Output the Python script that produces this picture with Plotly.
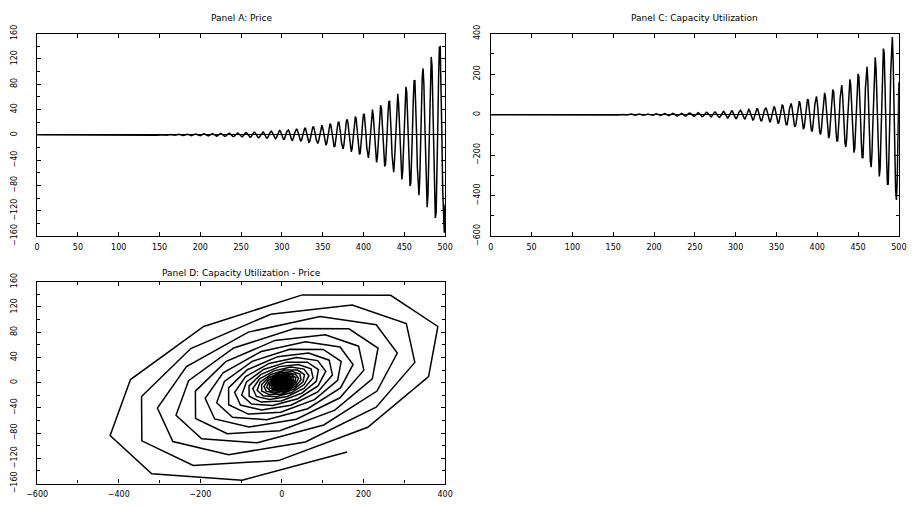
import plotly.graph_objects as go

# time index 0..500
period = list(range(0, 501))

# Panel A: Price (tiny early values estimated)
price = [
    0.0, 0.0, -0.1, -0.1, 0.0,
    0.0, 0.0, 0.1, 0.1, 0.1, 0.0, 0.0, -0.1, -0.1, -0.1, 0.0, 0.0, 0.1, 0.1, 0.1, 0.0, 0.0, -0.1, -0.1, -0.1, 0.0, 0.0, 0.1, 0.1, 0.1, 0.1, 0.0, -0.1, -0.1, -0.1, -0.1,
    0.0, 0.1, 0.1, 0.1, 0.1, 0.0, 0.0, -0.1, -0.1, -0.1, 0.0, 0.0, 0.1, 0.1, 0.1, 0.1, 0.0, -0.1, -0.1, -0.1, -0.1, 0.0, 0.1, 0.2, 0.2, 0.1, 0.0, -0.1, -0.2, -0.2, -0.1,
    0.0, 0.1, 0.2, 0.2, 0.1, 0.0, -0.1, -0.2, -0.2, -0.2, -0.1, 0.1, 0.2, 0.2, 0.2, 0.1, 0.0, -0.2, -0.2, -0.2, -0.1, 0.0, 0.2, 0.3, 0.3, 0.2, 0.0, -0.2, -0.3, -0.3, -0.2,
    -0.04, 0.14, 0.28, 0.32, 0.24, 0.08, -0.12, -0.28, -0.34, -0.28, -0.12, 0.10, 0.28, 0.37, 0.33, 0.16, -0.07, -0.28, -0.39, -0.37, -0.21, 0.03, 0.27, 0.42, 0.42, 0.27, 0.01, -0.25, -0.43, -0.47, -0.33,
    -0.07, 0.23, 0.45, 0.51, 0.39, 0.12, -0.20, -0.46, -0.56, -0.46, -0.19, 0.16, 0.46, 0.60, 0.53, 0.26, -0.11, -0.45, -0.64, -0.60, -0.34, 0.05, 0.43, 0.68, 0.68, 0.43, 0.02, -0.41, -0.70, -0.75, -0.53,
    -0.11, 0.37, 0.73, 0.83, 0.63, 0.20, -0.32, -0.74, -0.90, -0.74, -0.31, 0.25, 0.74, 0.97, 0.86, 0.43, -0.17, -0.73, -1.04, -0.98, -0.56, 0.08, 0.70, 1.10, 1.10, 0.70, 0.04, -0.66, -1.14, -1.22, -0.86,
    -0.1, 0.6, 1.2, 1.4, 1.0, 0.4, -0.6, -1.2, -1.5, -1.2, -0.6, 0.4, 1.2, 1.6, 1.4, 0.7, -0.2, -1.2, -1.7, -1.6, -0.9, 0.1, 1.1, 1.8, 1.8, 1.1, 0.1, -1.0, -1.8, -2.0, -1.4,
    -0.2, 1.0, 1.9, 2.2, 1.7, 0.6, -0.9, -1.9, -2.4, -2.0, -0.9, 0.6, 1.9, 2.6, 2.3, 1.1, -0.4, -1.9, -2.7, -2.6, -1.5, 0.2, 1.8, 2.9, 2.9, 1.8, 0.1, -1.7, -3.0, -3.2, -2.3,
    -0.4, 1.6, 3.1, 3.6, 2.7, 0.9, -1.4, -3.1, -3.9, -3.2, -1.4, 1.0, 3.1, 4.2, 3.7, 1.8, -0.7, -3.1, -4.4, -4.2, -2.4, 0.4, 3.0, 4.7, 4.7, 3.0, 0.1, -2.8, -4.9, -5.2, -3.7,
    -0.7, 2.6, 5.1, 5.8, 4.4, 1.4, -2.2, -5.1, -6.3, -5.2, -2.2, 1.7, 5.1, 6.8, 6.0, 3.0, -1.2, -5.1, -7.2, -6.8, -3.9, 0.6, 4.9, 7.6, 7.6, 4.9, 0.2, -4.6, -7.9, -8.4, -6.0,
    -1.2, 4.2, 8.2, 9.4, 7.1, 2.3, -3.6, -8.3, -10.2, -8.4, -3.5, 2.8, 8.3, 11.0, 9.7, 4.8, -1.9, -8.2, -11.7, -11.0, -6.3, 0.9, 7.9, 12.3, 12.3, 7.9, 0.4, -7.5, -12.8, -13.7, -9.7,
    -1.9, 6.8, 13.3, 15.2, 11.5, 3.7, -5.8, -13.5, -16.5, -13.6, -5.6, 4.6, 13.5, 17.8, 15.7, 7.8, -3.1, -13.3, -19.0, -17.9, -10.2, 1.4, 12.8, 20.0, 20.0, 12.8, 0.7, -12.1, -20.8, -22.3, -15.7,
    -3.1, 11.0, 21.5, 24.6, 18.7, 6.0, -9.4, -21.9, -26.7, -22.0, -9.1, 7.5, 21.9, 28.8, 25.4, 12.6, -5.1, -21.6, -30.8, -29.0, -16.6, 2.2, 20.8, 32.4, 32.5, 20.8, 1.1, -19.6, -33.8, -36.2, -25.5,
    -5.1, 17.8, 34.9, 39.9, 30.4, 9.7, -15.3, -35.5, -43.4, -35.7, -14.8, 12.2, 35.6, 46.8, 41.2, 20.5, -8.3, -35.1, -49.9, -47.0, -26.9, 3.6, 33.8, 52.6, 52.8, 33.8, 1.8, -31.8, -54.9, -58.8, -41.4,
    -8.3, 28.8, 56.6, 64.7, 49.4, 15.7, -24.8, -57.6, -70.4, -57.9, -24.0, 19.8, 57.8, 75.9, 66.9, 33.3, -13.5, -56.9, -80.9, -76.2, -43.6, 5.9, 54.9, 85.4, 85.7, 54.9, 3.0, -51.6, -89.1, -95.4, -67.1,
    -13.4, 46.8, 91.8, 104.9, 80.1, 25.4, -40.3, -93.4, -114.2, -94.0, -38.9, 32.1, 93.7, 123.1, 108.5, 54.0, -21.9, -92.3, -131.2, -123.6, -70.7, 9.6, 89.0, 138.5, 139.1, 89.0, 4.9, -83.7, -144.5, -154.7, -110.0,
]

# Panel C: Capacity Utilization
capacity = [
    -0.2, -0.2, -0.1, 0.0, 0.1,
    0.2, 0.2, 0.2, 0.1, -0.1, -0.2, -0.2, -0.2, -0.1, 0.0, 0.2, 0.2, 0.2, 0.1, 0.0, -0.2, -0.2, -0.2, -0.2, 0.0, 0.1, 0.3, 0.3, 0.2, 0.0, -0.1, -0.3, -0.3, -0.2, -0.1, 0.1,
    0.3, 0.3, 0.3, 0.1, -0.1, -0.3, -0.3, -0.3, -0.1, 0.1, 0.3, 0.4, 0.3, 0.2, 0.0, -0.3, -0.4, -0.4, -0.2, 0.0, 0.2, 0.4, 0.4, 0.3, 0.1, -0.2, -0.4, -0.5, -0.4, -0.1, 0.2,
    0.4, 0.5, 0.4, 0.2, -0.2, -0.4, -0.6, -0.5, -0.2, 0.1, 0.4, 0.6, 0.6, 0.3, -0.1, -0.4, -0.6, -0.6, -0.4, 0.0, 0.4, 0.7, 0.7, 0.5, 0.1, -0.4, -0.7, -0.8, -0.6, -0.2, 0.3,
    0.7, 0.9, 0.7, 0.3, -0.2, -0.7, -0.9, -0.8, -0.4, 0.2, 0.7, 1.0, 0.9, 0.5, -0.1, -0.7, -1.0, -1.0, -0.7, 0.0, 0.6, 1.1, 1.1, 0.8, 0.2, -0.6, -1.1, -1.3, -1.0, -0.3, 0.5,
    1.1, 1.4, 1.1, 0.5, -0.4, -1.1, -1.5, -1.3, -0.6, 0.3, 1.1, 1.6, 1.5, 0.8, -0.1, -1.1, -1.7, -1.7, -1.1, 0.0, 1.0, 1.8, 1.9, 1.3, 0.2, -0.9, -1.8, -2.1, -1.6, -0.5, 0.8,
    1.84, 2.24, 1.83, 0.74, -0.65, -1.85, -2.41, -2.11, -1.04, 0.45, 1.83, 2.58, 2.41, 1.36, -0.22, -1.77, -2.72, -2.72, -1.72, -0.07, 1.66, 2.84, 3.02, 2.11, 0.40, -1.52, -2.94, -3.33, -2.52, -0.77, 1.32,
    3.0, 3.6, 3.0, 1.2, -1.0, -3.0, -3.9, -3.5, -1.7, 0.7, 3.0, 4.2, 3.9, 2.2, -0.4, -2.8, -4.4, -4.4, -2.8, -0.1, 2.7, 4.6, 4.9, 3.4, 0.6, -2.5, -4.7, -5.4, -4.1, -1.2, 2.2,
    4.9, 5.9, 4.8, 1.9, -1.7, -4.9, -6.3, -5.6, -2.7, 1.2, 4.8, 6.8, 6.3, 3.6, -0.6, -4.6, -7.1, -7.1, -4.6, -0.1, 4.4, 7.5, 8.0, 5.5, 1.0, -4.0, -7.7, -8.8, -6.7, -2.0, 3.5,
    7.9, 9.6, 7.8, 3.1, -2.8, -7.9, -10.3, -9.1, -4.4, 1.9, 7.8, 11.0, 10.3, 5.8, -0.9, -7.5, -11.6, -11.6, -7.4, -0.2, 7.1, 12.1, 12.9, 9.0, 1.7, -6.5, -12.5, -14.2, -10.8, -3.3, 5.6,
    12.8, 15.5, 12.6, 5.1, -4.5, -12.8, -16.7, -14.7, -7.1, 3.1, 12.6, 17.9, 16.7, 9.4, -1.5, -12.2, -18.9, -18.9, -12.0, -0.4, 11.5, 19.7, 21.0, 14.6, 2.7, -10.5, -20.3, -23.1, -17.5, -5.4, 9.1,
    20.8, 25.2, 20.5, 8.3, -7.3, -20.8, -27.1, -23.8, -11.6, 5.1, 20.5, 29.0, 27.1, 15.3, -2.4, -19.8, -30.6, -30.6, -19.4, -0.7, 18.7, 32.0, 34.0, 23.7, 4.4, -17.1, -33.0, -37.5, -28.4, -8.7, 14.8,
    33.7, 40.9, 33.3, 13.5, -11.9, -33.8, -44.0, -38.6, -18.9, 8.3, 33.3, 47.0, 44.0, 24.9, -3.9, -32.2, -49.7, -49.6, -31.4, -1.2, 30.3, 51.9, 55.2, 38.5, 7.2, -27.7, -53.6, -60.8, -46.0, -14.1, 24.0,
    54.6, 66.3, 54.1, 21.9, -19.3, -54.8, -71.4, -62.6, -30.6, 13.4, 54.1, 76.3, 71.4, 40.4, -6.4, -52.3, -80.6, -80.4, -50.9, -1.9, 49.2, 84.2, 89.5, 62.4, 11.7, -44.9, -86.9, -98.6, -74.7, -22.9, 39.0,
    88.6, 107.5, 87.8, 35.6, -31.3, -88.9, -115.9, -101.6, -49.7, 21.8, 87.8, 123.8, 115.8, 65.5, -10.4, -84.9, -130.7, -130.5, -82.6, -3.1, 79.9, 136.6, 145.2, 101.3, 19.0, -72.9, -141.0, -160.0, -121.2, -37.1, 63.2,
    143.7, 174.4, 142.5, 57.7, -50.8, -144.2, -188.1, -164.8, -80.7, 35.4, 142.4, 200.8, 187.9, 106.2, -16.9, -137.7, -212.1, -211.7, -134.0, -5.1, 129.7, 221.6, 235.6, 164.3, 30.8, -118.2, -228.8, -259.6, -196.7, -60.2, 102.5,
    233.1, 282.9, 231.2, 93.6, -82.4, -234.0, -305.2, -267.3, -130.9, 57.5, 231.0, 325.8, 304.9, 172.3, -27.4, -223.4, -344.1, -343.4, -217.4, -8.3, 210.4, 359.5, 382.3, 266.6, 50.0, -191.7, -371.2, -421.1, -319.1, -97.7, 160.0,
]

assert len(price) == len(capacity) == len(period)

panel_titles = ["Panel A: Price", "Panel C: Capacity Utilization",
                "Panel D: Capacity Utilization - Price"]

FONT = "DejaVu Sans"
line_style = dict(color="black", width=1.5)

fig = go.Figure()
fig.add_trace(go.Scatter(x=period, y=price, mode="lines", line=line_style,
                         xaxis="x", yaxis="y", showlegend=False, hoverinfo="skip"))
fig.add_trace(go.Scatter(x=period, y=capacity, mode="lines", line=line_style,
                         xaxis="x2", yaxis="y2", showlegend=False, hoverinfo="skip"))
fig.add_trace(go.Scatter(x=capacity, y=price, mode="lines", line=line_style,
                         xaxis="x3", yaxis="y3", showlegend=False, hoverinfo="skip"))


def ax(domain, rng, dtick, minor_dtick, anchor, vertical=False, zero=False, standoff=3):
    d = dict(
        domain=domain, range=rng, dtick=dtick, tick0=0, anchor=anchor,
        showline=True, linecolor="black", linewidth=1.2, mirror="allticks",
        ticks="inside", ticklen=4, tickwidth=1, tickcolor="black",
        showgrid=False, zeroline=zero, zerolinecolor="black", zerolinewidth=1,
        tickfont=dict(family=FONT, size=8, color="black"),
        ticklabelstandoff=standoff,
    )
    if minor_dtick:
        d["minor"] = dict(ticks="inside", ticklen=3, dtick=minor_dtick,
                          tickcolor="black", showgrid=False)
    if vertical:
        d["tickangle"] = -90
    return d


W, H = 915, 508
xA = [26.7 / W, 443.3 / W]
xC = [490.0 / W, 906.7 / W]
yTop = [1 - 236.0 / H, 1 - 25.5 / H]
yBot = [1 - 493.0 / H, 1 - 283.3 / H]

fig.update_layout(
    width=W, height=H,
    margin=dict(l=0, r=0, t=0, b=0),
    paper_bgcolor="white", plot_bgcolor="white",
    font=dict(family=FONT, size=8, color="black"),
    xaxis=ax(xA, [0, 500], 50, None, "y"),
    yaxis=ax(yTop, [-160, 160], 40, 20, "x", vertical=True, zero=True, standoff=16),
    xaxis2=ax(xC, [0, 500], 50, None, "y2"),
    yaxis2=ax(yTop, [-600, 400], 200, 100, "x2", vertical=True, zero=True, standoff=7),
    xaxis3=ax(xA, [-600, 400], 200, 100, "y3"),
    yaxis3=ax(yBot, [-160, 160], 40, 20, "x3", vertical=True, standoff=16),
)

title_pos = [((xA[0] + xA[1]) / 2, 1 - 9 / H), ((xC[0] + xC[1]) / 2, 1 - 9 / H),
             ((xA[0] + xA[1]) / 2, 1 - 274 / H)]
for text, (tx, ty) in zip(panel_titles, title_pos):
    fig.add_annotation(text=text, x=tx, y=ty, xref="paper", yref="paper",
                       showarrow=False, xanchor="center", yanchor="middle",
                       font=dict(family=FONT, size=9, color="black"))

fig.write_html("out.html")
